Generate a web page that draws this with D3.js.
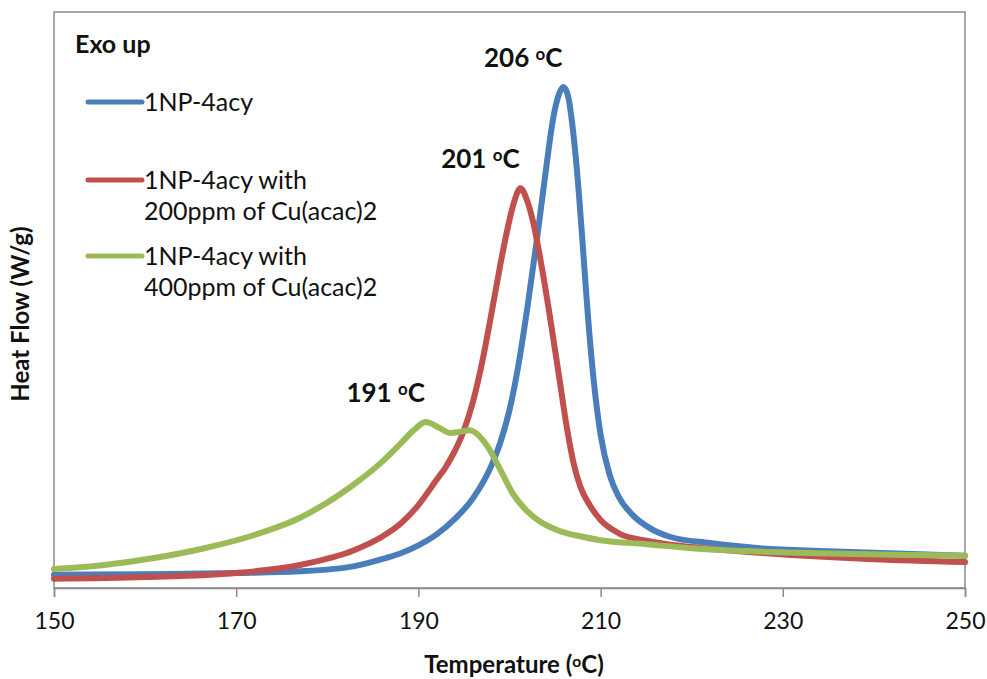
<!DOCTYPE html>
<html lang="en">
  <head>
    <meta charset="UTF-8" />
    <title>DSC heat flow</title>
    <style>
      body {
        margin: 0;
        background: #fff;
        font-family: Lato, "Open Sans", sans-serif;
      }
      svg text {
        fill: #111;
      }
    </style>
  </head>
  <body>
    <script src="https://cdn.jsdelivr.net/npm/d3@7"></script>
    <script>
      // temperatures (ºC) and heat flow (arbitrary units, exo up)
      var blueTemp = [150, 160, 170, 177, 183, 186, 188, 190, 192, 194, 196, 198, 199, 200, 201, 202, 203, 204, 204.8, 205.4, 205.9, 206.4, 206.9, 207.4, 208, 208.6, 209.3, 210, 211, 212, 213.5, 215.4, 217.6, 222, 227.5, 235, 250];
      var blueFlow = [0.23, 0.24, 0.26, 0.29, 0.38, 0.50, 0.60, 0.74, 0.93, 1.20, 1.56, 2.12, 2.53, 3.09, 3.89, 4.91, 6.04, 7.26, 8.16, 8.56, 8.70, 8.56, 8.04, 7.26, 6.04, 4.74, 3.52, 2.66, 1.96, 1.58, 1.27, 1.04, 0.89, 0.78, 0.69, 0.64, 0.56];

      var redTemp = [150, 160, 170, 177, 183, 186, 188, 190, 192, 193, 194, 195, 196, 197, 198, 199, 199.8, 200.5, 201.2, 201.9, 202.6, 203.5, 204.5, 205.5, 206.3, 207, 207.8, 208.8, 210, 212, 215, 220, 227.5, 240, 250];
      var redFlow = [0.16, 0.19, 0.26, 0.40, 0.66, 0.89, 1.11, 1.44, 1.88, 2.10, 2.38, 2.74, 3.24, 3.92, 4.75, 5.62, 6.25, 6.70, 6.94, 6.74, 6.35, 5.61, 4.65, 3.61, 2.78, 2.19, 1.75, 1.44, 1.18, 0.95, 0.82, 0.71, 0.61, 0.50, 0.45];

      var greenTemp = [150, 155.5, 161, 166.5, 172, 177, 182.5, 186, 188, 189.5, 190.8, 192.3, 193.5, 194.5, 195.6, 197.5, 199, 200.4, 201.9, 203.3, 205.5, 208, 210, 215, 220, 232, 250];
      var greenFlow = [0.33, 0.40, 0.52, 0.69, 0.92, 1.22, 1.75, 2.19, 2.50, 2.74, 2.88, 2.78, 2.69, 2.71, 2.74, 2.48, 2.05, 1.63, 1.34, 1.16, 0.99, 0.89, 0.83, 0.76, 0.69, 0.61, 0.56];

      var seriesNames = ["1NP-4acy", "1NP-4acy with\n200ppm of Cu(acac)2", "1NP-4acy with\n400ppm of Cu(acac)2"];
      var seriesColors = ["#4a7ebb", "#c0504d", "#9bbb59"];
      var xTicks = [150, 170, 190, 210, 230, 250];
      var peakLabels = [206, 201, 191];

      var width = 987, height = 679;
      var plotL = 54, plotR = 965, plotT = 12, plotB = 588;

      var x = d3.scaleLinear().domain([150, 250]).range([plotL, plotR]);
      var y = d3.scaleLinear().domain([0, 10]).range([plotB, plotT]);

      var svg = d3.select("body").append("svg")
        .attr("width", width)
        .attr("height", height);

      var series = [
        { name: seriesNames[0], color: seriesColors[0], pts: d3.zip(blueTemp, blueFlow) },
        { name: seriesNames[1], color: seriesColors[1], pts: d3.zip(redTemp, redFlow) },
        { name: seriesNames[2], color: seriesColors[2], pts: d3.zip(greenTemp, greenFlow) }
      ];

      // plot frame
      svg.append("rect")
        .attr("x", plotL).attr("y", plotT)
        .attr("width", plotR - plotL).attr("height", plotB - plotT)
        .attr("fill", "none")
        .attr("stroke", "#8a8a8a")
        .attr("stroke-width", 1.5);

      // x axis
      var xAxis = d3.axisBottom(x).tickValues(xTicks).tickSize(9).tickPadding(16);
      var gx = svg.append("g")
        .attr("transform", "translate(0," + plotB + ")")
        .call(xAxis);
      gx.select(".domain").attr("stroke", "#8a8a8a").attr("stroke-width", 1.5);
      gx.selectAll(".tick line").attr("stroke", "#8a8a8a").attr("stroke-width", 1.5);
      gx.selectAll(".tick text")
        .style("font-family", "Lato, sans-serif")
        .style("font-size", "23px")
        .attr("fill", "#1a1a1a");

      var line = d3.line()
        .x(function(d) { return x(d[0]); })
        .y(function(d) { return y(d[1]); })
        .curve(d3.curveMonotoneX);

      svg.append("g").selectAll("path")
        .data(series)
        .enter().append("path")
        .attr("d", function(d) { return line(d.pts); })
        .attr("fill", "none")
        .attr("stroke", function(d) { return d.color; })
        .attr("stroke-width", 6)
        .attr("stroke-linejoin", "round")
        .attr("stroke-linecap", "round");

      // legend
      svg.append("text")
        .attr("x", 75).attr("y", 53)
        .style("font-size", "25px")
        .style("font-weight", "bold")
        .text("Exo up");

      var legendY = [102, 180, 256];
      var leg = svg.append("g").selectAll("g")
        .data(series)
        .enter().append("g")
        .attr("transform", function(d, i) { return "translate(0," + legendY[i] + ")"; });
      leg.append("line")
        .attr("x1", 88).attr("x2", 142)
        .attr("stroke", function(d) { return d.color; })
        .attr("stroke-width", 5)
        .attr("stroke-linecap", "round");
      leg.append("text")
        .attr("x", 144).attr("y", 9)
        .style("font-size", "25px")
        .attr("fill", "#222")
        .selectAll("tspan")
        .data(function(d) { return d.name.split("\n"); })
        .enter().append("tspan")
        .attr("x", 144)
        .attr("dy", function(d, i) { return i ? 31 : 0; })
        .text(function(d) { return d; });

      // peak labels
      function degText(sel, value, unit) {
        sel.append("tspan").text(value);
        sel.append("tspan").attr("dy", "-0.4em").style("font-size", "0.65em").text("o");
        sel.append("tspan").attr("dy", "0.26em").text(unit);
      }
      var peakPos = [[blueTemp, blueFlow], [redTemp, redFlow], [greenTemp, greenFlow]];
      peakPos.forEach(function(p, i) {
        var k = d3.maxIndex(p[1]);
        var t = svg.append("text")
          .attr("x", x(p[0][k]) - 40)
          .attr("y", y(p[1][k]) - 20)
          .attr("text-anchor", "middle")
          .style("font-size", "26px")
          .style("font-weight", "bold");
        degText(t, peakLabels[i] + " ", "C");
      });

      // axis titles
      var xt = svg.append("text")
        .attr("x", 514).attr("y", 673)
        .attr("text-anchor", "middle")
        .style("font-size", "24px")
        .style("font-weight", "bold");
      degText(xt, "Temperature (", "C)");

      svg.append("text")
        .attr("transform", "translate(29,314) rotate(-90)")
        .attr("text-anchor", "middle")
        .style("font-size", "24px")
        .style("font-weight", "bold")
        .text("Heat Flow (W/g)");
    </script>
  </body>
</html>
